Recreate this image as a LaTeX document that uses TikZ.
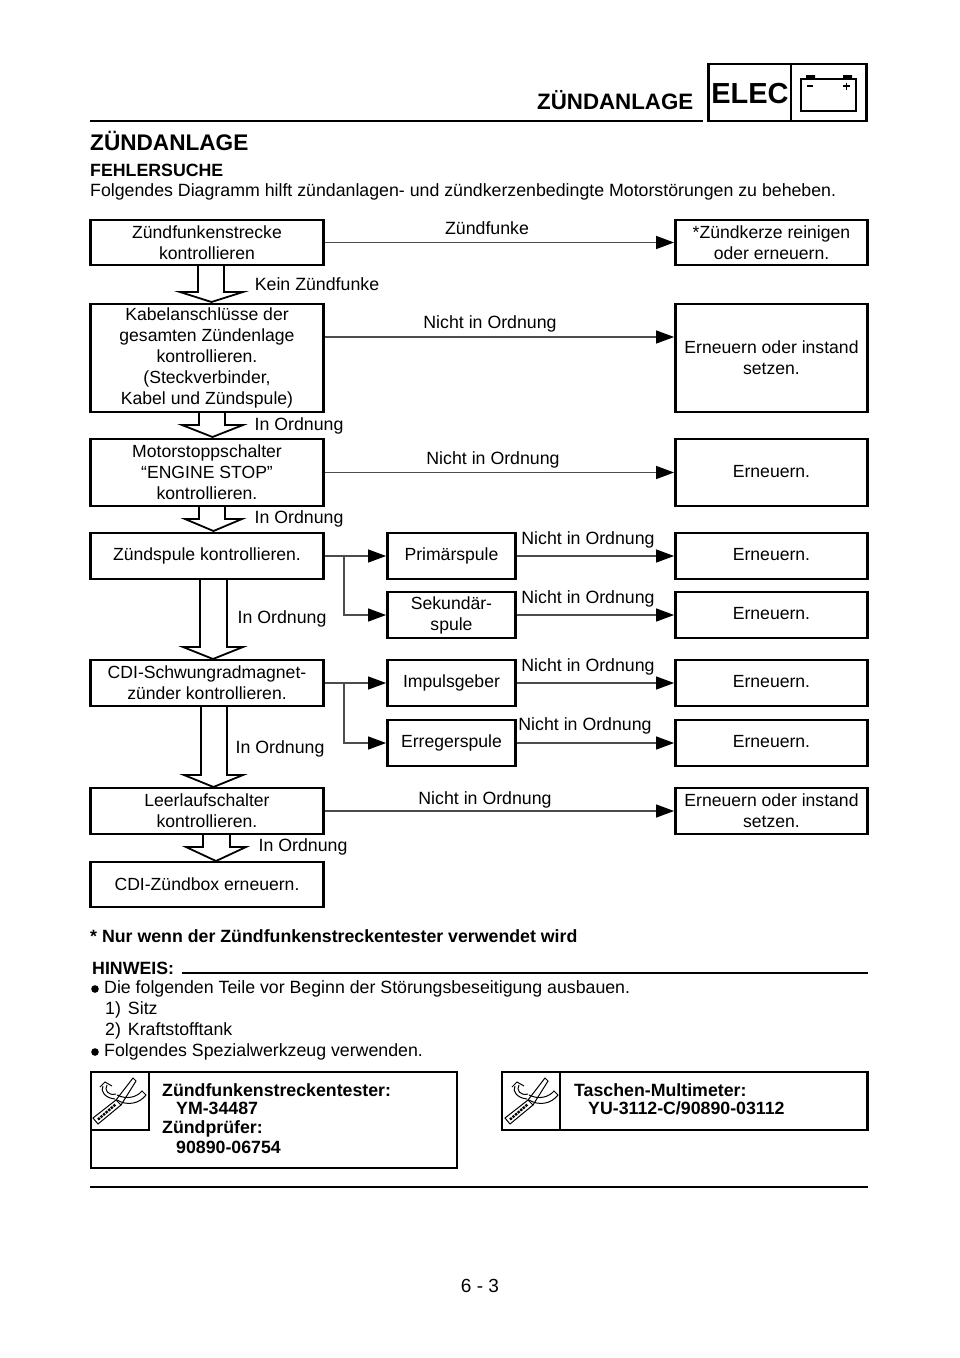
\documentclass[tikz,border=0pt]{standalone}
\usepackage{fontspec}
\setmainfont{Liberation Sans}
\usetikzlibrary{arrows.meta}

\tikzset{
  stepbox/.style={draw, line width=2.8pt, minimum width=#1, inner sep=0pt, align=center, font=\fontsize{17.6}{21}\selectfont},
  stepbox/.default=233pt,
  fixbox/.style={stepbox=192pt},
  testbox/.style={stepbox=128pt},
  oneline/.style={text depth=2.5pt},
  flowlabel/.style={inner sep=0pt, text height=13pt, text depth=4pt, font=\fontsize{17.75}{21}\selectfont},
  bodytext/.style={anchor=west, inner sep=0pt, text height=13pt, text depth=4pt, font=\fontsize{17.75}{21}\selectfont},
  boldtext/.style={anchor=west, inner sep=0pt, text height=13pt, text depth=4pt, font=\bfseries\fontsize{17.75}{21}\selectfont},
  link/.style={draw=black!70, line width=1.2pt, -{Triangle[length=18pt,width=13pt,black]}},
  hollow/.style={draw, line width=1.8pt, fill=white},
  rule/.style={line width=2.8pt}
}

\begin{document}
\begin{tikzpicture}[x=1pt,y=-1pt]
  \useasboundingbox (0,0) rectangle (960,1358);

  % header
  \draw[rule] (90,121) -- (703,121);
  \node[anchor=east, inner sep=0pt, font=\bfseries\fontsize{22.3}{26}\selectfont] (title) at (693.5,100) {ZÜNDANLAGE};
  \node[draw, line width=2.8pt, minimum width=158pt, minimum height=57pt, inner sep=0pt] (tab) at (787.5,92.5) {};
  \draw[line width=2.8pt] (791,64) -- (791,121);
  \node[anchor=center, inner sep=0pt, font=\bfseries\fontsize{29}{34}\selectfont] (elec) at (750,94) {ELEC};
  \draw[line width=1.1pt] (801,79) rectangle (856,111);
  \fill (806,75) rectangle (815,79) (843,75) rectangle (852,79);
  \draw[line width=1.4pt] (807,86) -- (813,86) (843,86) -- (850,86) (846.5,82.5) -- (846.5,89.5);

  \node[boldtext, font=\bfseries\fontsize{22.6}{26}\selectfont] (head) at (90,146) {ZÜNDANLAGE};
  \node[boldtext] (sub) at (90,172) {FEHLERSUCHE};
  \node[bodytext] (intro) at (90,192) {Folgendes Diagramm hilft zündanlagen- und zündkerzenbedingte Motorstörungen zu beheben.};

  % left column
  \node[stepbox, minimum height=45pt] (spark) at (207,242.5) {Zündfunkenstrecke\\kontrollieren};
  \node[stepbox, minimum height=108pt] (cable) at (207,358) {Kabelanschlüsse der\\gesamten Zündenlage\\kontrollieren.\\(Steckverbinder,\\Kabel und Zündspule)};
  \node[stepbox, minimum height=67pt] (stop) at (207,472.5) {Motorstoppschalter\\“ENGINE STOP”\\kontrollieren.};
  \node[stepbox, minimum height=46pt] (coil) at (207,556) {Zündspule kontrollieren.};
  \node[stepbox, minimum height=46pt] (cdi) at (207,683) {CDI-Schwungradmagnet-\\zünder kontrollieren.};
  \node[stepbox, minimum height=46pt] (idle) at (207,811) {Leerlaufschalter\\kontrollieren.};
  \node[stepbox, minimum height=45pt] (box) at (207,884.5) {CDI-Zündbox erneuern.};

  % middle column
  \node[testbox, minimum height=46pt] (prim) at (451.5,556) {Primärspule};
  \node[testbox, minimum height=46pt] (sec) at (451.5,615) {Sekundär-\\spule};
  \node[testbox, minimum height=46pt] (pulse) at (451.5,683) {Impulsgeber};
  \node[testbox, minimum height=46pt] (exc) at (451.5,743) {Erregerspule};

  % right column
  \node[fixbox, minimum height=45pt] (fix1) at (771.5,242.5) {*Zündkerze reinigen\\oder erneuern.};
  \node[fixbox, minimum height=108pt] (fix2) at (771.5,358) {Erneuern oder instand\\setzen.};
  \node[fixbox, oneline, minimum height=67pt] (fix3) at (771.5,472.5) {Erneuern.};
  \node[fixbox, oneline, minimum height=46pt] (fix4) at (771.5,556) {Erneuern.};
  \node[fixbox, oneline, minimum height=46pt] (fix5) at (771.5,615) {Erneuern.};
  \node[fixbox, oneline, minimum height=46pt] (fix6) at (771.5,683) {Erneuern.};
  \node[fixbox, oneline, minimum height=46pt] (fix7) at (771.5,743) {Erneuern.};
  \node[fixbox, minimum height=46pt] (fix8) at (771.5,811) {Erneuern oder instand\\setzen.};

  % connectors
  \path[link] (spark.east) -- (fix1.west);
  \path[link] (cable.east |- 0,337) -- (fix2.west |- 0,337);
  \path[link] (stop.east) -- (fix3.west);
  \path[link] (prim.east) -- (fix4.west);
  \path[link] (sec.east) -- (fix5.west);
  \path[link] (pulse.east) -- (fix6.west);
  \path[link] (exc.east) -- (fix7.west);
  \path[link] (idle.east) -- (fix8.west);
  \path[link] (coil.east) -- (prim.west);
  \path[link] (cdi.east) -- (pulse.west);
  \coordinate (coiljoint) at (344,556);
  \coordinate (cdijoint) at (344,683);
  \path[link] (coiljoint) |- (sec.west);
  \path[link] (cdijoint) |- (exc.west);

  % block arrows
  \foreach \top/\neck/\tip/\xl/\xr/\hl/\hr in {266/292/302/198/224/180/243, 413/425/437/199/225/182/243, 507/519/531/199/225/185/242, 580/647/659/200/227/183/243, 707/775/787/201/227/184/243, 835/847/861/203/230/186/246}
    \draw[hollow] (\xl,\top) -- (\xl,\neck) -- (\hl,\neck) -- ({(\hl+\hr)/2},\tip) -- (\hr,\neck) -- (\xr,\neck) -- (\xr,\top);

  % flow labels
  \node[flowlabel] (lab1) at (487,230) {Zündfunke};
  \node[flowlabel] (lab2) at (317,286) {Kein Zündfunke};
  \node[flowlabel] (lab3) at (490,324) {Nicht in Ordnung};
  \node[flowlabel] (lab4) at (299,426) {In Ordnung};
  \node[flowlabel] (lab5) at (493,460) {Nicht in Ordnung};
  \node[flowlabel] (lab6) at (299,519) {In Ordnung};
  \node[flowlabel] (lab7) at (588,540) {Nicht in Ordnung};
  \node[flowlabel] (lab8) at (588,599) {Nicht in Ordnung};
  \node[flowlabel] (lab9) at (282,619) {In Ordnung};
  \node[flowlabel] (lab10) at (588,667) {Nicht in Ordnung};
  \node[flowlabel] (lab11) at (585,726) {Nicht in Ordnung};
  \node[flowlabel] (lab12) at (280,749) {In Ordnung};
  \node[flowlabel] (lab13) at (485,800) {Nicht in Ordnung};
  \node[flowlabel] (lab14) at (303,847) {In Ordnung};

  % notes
  \node[boldtext] (star) at (90,938) {* Nur wenn der Zündfunkenstreckentester verwendet wird};
  \node[boldtext] (note) at (92,970) {HINWEIS:};
  \draw[rule] (182,973) -- (868,973);
  \fill (95,989) circle (3.8pt) (95,1052) circle (3.8pt);
  \node[bodytext] (item1) at (104,989) {Die folgenden Teile vor Beginn der Störungsbeseitigung ausbauen.};
  \node[bodytext] (item2) at (105,1010) {1)\hspace{7pt}Sitz};
  \node[bodytext] (item3) at (105,1031) {2)\hspace{7pt}Kraftstofftank};
  \node[bodytext] (item4) at (104,1052) {Folgendes Spezialwerkzeug verwenden.};

  % tool boxes
  \draw[line width=2.8pt] (91,1072) rectangle (457,1168);
  \draw[line width=2.8pt] (91,1130) -- (149,1130) -- (149,1072);
  \draw[line width=2.8pt] (502,1072) rectangle (867.5,1130);
  \draw[line width=2.8pt] (560,1072) -- (560,1130);
  \foreach \dx in {0,412} {
    \begin{scope}[shift={(\dx,0)}]
      \draw[line width=1pt] (93,1118) -- (116,1100) -- (121,1105) -- (98,1124) -- cycle;
      \draw[line width=2.4pt, densely dotted] (98,1119.5) -- (116,1104);
      \draw[line width=1pt] (116,1100) -- (133,1078) -- (136,1081) -- (121,1105);
      \draw[line width=1pt] (116,1094) .. controls (108,1096) and (104,1090) .. (107,1085);
      \draw[line width=1pt] (115,1099) .. controls (105,1098) and (100,1091) .. (103,1086);
      \draw[line width=1pt] (100,1087) -- (105,1082) -- (112,1086);
      \draw[line width=1pt] (117,1095) .. controls (127,1100) and (137,1097) .. (142,1091) -- (146,1095) .. controls (139,1104) and (127,1106) .. (117,1100);
    \end{scope}
  }
  \node[boldtext] (tool1) at (162,1092) {Zündfunkenstreckentester:};
  \node[boldtext] (tool2) at (176,1109.5) {YM-34487};
  \node[boldtext] (tool3) at (162,1129) {Zündprüfer:};
  \node[boldtext] (tool4) at (176,1149) {90890-06754};
  \node[boldtext] (tool5) at (574,1092) {Taschen-Multimeter:};
  \node[boldtext] (tool6) at (588,1109.5) {YU-3112-C/90890-03112};

  % footer
  \draw[rule] (90,1187) -- (868,1187);
  \node[font=\fontsize{19}{23}\selectfont] (page) at (480,1286) {6 - 3};
\end{tikzpicture}
\end{document}
